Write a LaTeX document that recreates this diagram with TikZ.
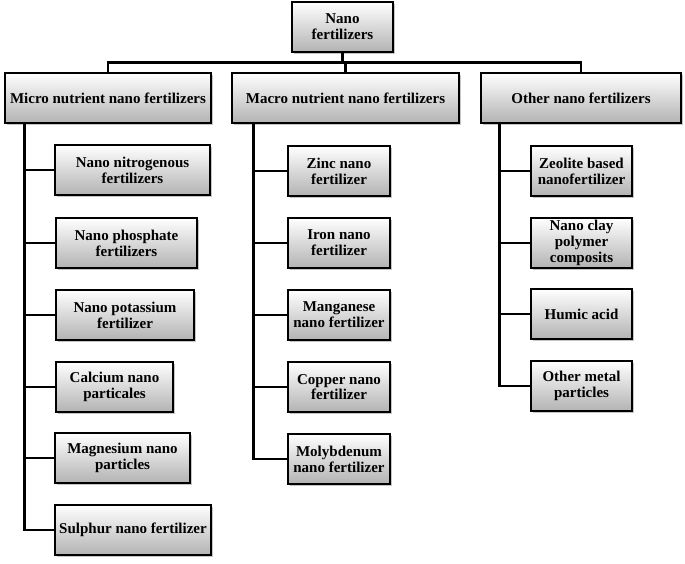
\documentclass[tikz,border=0pt]{standalone}
\usepackage{fontspec}
\setmainfont{Liberation Serif}
\usetikzlibrary{shadows}
\begin{document}
\begin{tikzpicture}[x=1pt,y=-1pt,
  box/.style={draw=black, line width=1.1pt, top color=white, bottom color=black!30,
    drop shadow={shadow xshift=1.8pt, shadow yshift=-1.8pt, opacity=0.45},
    font=\fontsize{15}{15.8}\selectfont\bfseries, align=center, inner sep=0pt},
  conn/.style={draw=black, line width=2.6pt}]
\useasboundingbox (0,0) rectangle (685,563);
% top
\node[box, minimum width=101pt, minimum height=50pt] (top) at (342.5,27) {Nano\\fertilizers};
% level 1
\node[box, minimum width=206pt, minimum height=50pt] (micro) at (108,98) {Micro nutrient nano fertilizers};
\node[box, minimum width=227pt, minimum height=50pt] (macro) at (345.5,98) {Macro nutrient nano fertilizers};
\node[box, minimum width=200pt, minimum height=50pt] (other) at (581,98) {Other nano fertilizers};
% micro children
\node[box, minimum width=155pt, minimum height=50pt] (m1) at (132.5,170) {Nano nitrogenous\\fertilizers};
\node[box, minimum width=141pt, minimum height=50pt] (m2) at (126.5,243) {Nano phosphate\\fertilizers};
\node[box, minimum width=138pt, minimum height=50pt] (m3) at (125,315) {Nano potassium\\fertilizer};
\node[box, minimum width=117pt, minimum height=50pt] (m4) at (114.5,387) {Calcium nano\\particales};
\node[box, minimum width=135pt, minimum height=50pt] (m5) at (122.5,458) {Magnesium nano\\particles};
\node[box, minimum width=156pt, minimum height=50pt] (m6) at (133,530) {Sulphur nano fertilizer};
% macro children
\node[box, minimum width=102pt, minimum height=50pt] (a1) at (339,171) {Zinc nano\\fertilizer};
\node[box, minimum width=102pt, minimum height=50pt] (a2) at (339,243) {Iron nano\\fertilizer};
\node[box, minimum width=102pt, minimum height=50pt] (a3) at (339,315) {Manganese\\nano fertilizer};
\node[box, minimum width=102pt, minimum height=50pt] (a4) at (339,387) {Copper nano\\fertilizer};
\node[box, minimum width=102pt, minimum height=50pt] (a5) at (339,459) {Molybdenum\\nano fertilizer};
% other children
\node[box, minimum width=101pt, minimum height=50pt] (o1) at (581.5,171) {Zeolite based\\nanofertilizer};
\node[box, minimum width=101pt, minimum height=50pt] (o2) at (581.5,243) {Nano clay\\polymer\\composits};
\node[box, minimum width=101pt, minimum height=50pt] (o3) at (581.5,314) {Humic acid};
\node[box, minimum width=101pt, minimum height=50pt] (o4) at (581.5,386) {Other metal\\particles};
% connectors top
\draw[conn] (top.south) -- ++(0,10) coordinate (bar);
\draw[conn] (micro.north) |- (bar) -| (other.north);
\draw[conn] (bar) -- (bar -| macro.north) -- (macro.north);
% children
\foreach \c in {m1,m2,m3,m4,m5,m6}
  \draw[conn] ([xshift=20pt]micro.south west) |- (\c.west);
\foreach \c in {a1,a2,a3,a4,a5}
  \draw[conn] ([xshift=22pt]macro.south west) |- (\c.west);
\foreach \c in {o1,o2,o3,o4}
  \draw[conn] ([xshift=19pt]other.south west) |- (\c.west);
\end{tikzpicture}
\end{document}
